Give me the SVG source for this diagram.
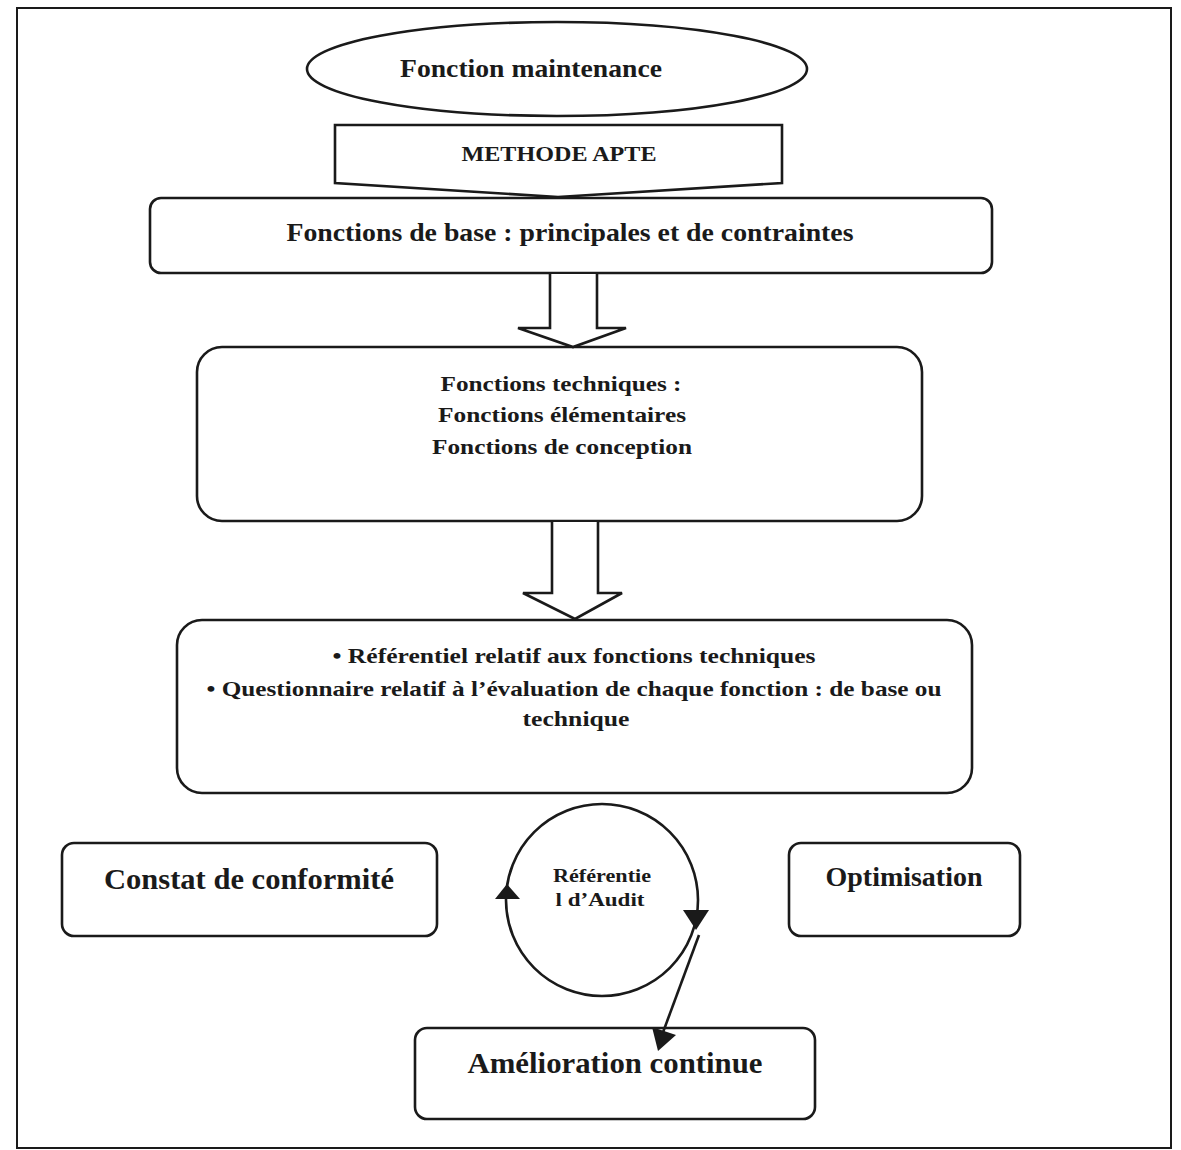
<svg xmlns="http://www.w3.org/2000/svg" width="1181" height="1150" viewBox="0 0 1181 1150">
<defs>
<style>
.s{fill:#fff;stroke:#1a1a1a;stroke-width:2.6}
.t{font-family:"Liberation Serif","DejaVu Serif",serif;font-weight:bold;fill:#1a1a1a;text-anchor:middle}
.c{fill:none;stroke:#1a1a1a;stroke-width:2.6}
</style>
</defs>
<rect x="0" y="0" width="1181" height="1150" fill="#fff"/>
<rect x="17" y="8" width="1154" height="1140" fill="none" stroke="#1a1a1a" stroke-width="2"/>

<g id="n-maintenance">
<ellipse class="s" cx="557" cy="69" rx="250" ry="47"/>
<text class="t" x="531" y="77" font-size="25" textLength="262" lengthAdjust="spacingAndGlyphs">Fonction maintenance</text>
</g>
<g id="n-apte">
<path class="s" d="M335,125 L782,125 L782,183 L558,197 L335,183 Z"/>
<text class="t" x="559" y="161" font-size="21" textLength="195" lengthAdjust="spacingAndGlyphs">METHODE APTE</text>
</g>
<g id="n-base">
<rect class="s" x="150" y="198" width="842" height="75" rx="11"/>
<text class="t" x="570" y="241" font-size="25" textLength="567" lengthAdjust="spacingAndGlyphs">Fonctions de base : principales et de contraintes</text>
</g>
<g id="n-techniques">
<rect class="s" x="197" y="347" width="725" height="174" rx="25"/>
<text class="t" x="561" y="391" font-size="22" textLength="241" lengthAdjust="spacingAndGlyphs">Fonctions techniques :</text>
<text class="t" x="562" y="422" font-size="22" textLength="248" lengthAdjust="spacingAndGlyphs">Fonctions élémentaires</text>
<text class="t" x="562" y="454" font-size="22" textLength="260" lengthAdjust="spacingAndGlyphs">Fonctions de conception</text>
</g>
<g id="n-referentiel">
<rect class="s" x="177" y="620" width="795" height="173" rx="25"/>
<text class="t" x="574" y="663" font-size="22" textLength="483" lengthAdjust="spacingAndGlyphs">• Référentiel relatif aux fonctions techniques</text>
<text class="t" x="574" y="696" font-size="22" textLength="735" lengthAdjust="spacingAndGlyphs">• Questionnaire relatif à l’évaluation de chaque fonction : de base ou</text>
<text class="t" x="576" y="726" font-size="22" textLength="107" lengthAdjust="spacingAndGlyphs">technique</text>
</g>
<g id="n-constat">
<rect class="s" x="62" y="843" width="375" height="93" rx="12"/>
<text class="t" x="249" y="889" font-size="29" textLength="290" lengthAdjust="spacingAndGlyphs">Constat de conformité</text>
</g>
<g id="n-optimisation">
<rect class="s" x="789" y="843" width="231" height="93" rx="12"/>
<text class="t" x="904" y="886" font-size="27" textLength="157" lengthAdjust="spacingAndGlyphs">Optimisation</text>
</g>
<g id="n-audit">
<text class="t" x="602" y="882" font-size="18" textLength="98" lengthAdjust="spacingAndGlyphs">Référentie</text>
<text class="t" x="600" y="906" font-size="18" textLength="89" lengthAdjust="spacingAndGlyphs">l d’Audit</text>
</g>
<g id="n-amelioration">
<rect class="s" x="415" y="1028" width="400" height="91" rx="12"/>
<text class="t" x="615" y="1073" font-size="29" textLength="295" lengthAdjust="spacingAndGlyphs">Amélioration continue</text>
</g>

<g id="connectors">
<path class="s" d="M550,274 L550,328 L518,328 L573,347 L626,328 L597,328 L597,274"/>
<path class="s" d="M552,522 L552,593 L523,593 L575,619 L622,593 L598,593 L598,522"/>
<circle class="c" cx="602" cy="900" r="96"/>
<path d="M507,884 L495,899 L520,899 Z" fill="#1a1a1a"/>
<path d="M696,930 L683,910 L709,910 Z" fill="#1a1a1a"/>
<line class="c" x1="699" y1="935" x2="662" y2="1035"/>
<path d="M658,1051 L652,1027 L676,1035 Z" fill="#1a1a1a"/>
</g>
</svg>
